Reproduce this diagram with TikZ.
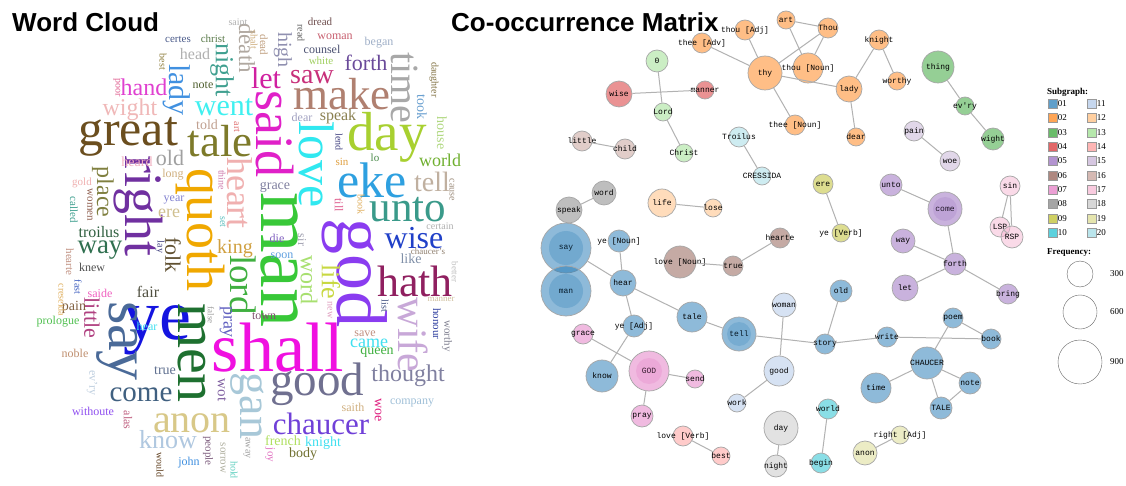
\documentclass[tikz,border=0pt]{standalone}
\usepackage{fontspec}
\setmainfont{Liberation Serif}
\newfontfamily\titlefont{Liberation Sans}
\newfontfamily\netfont{Liberation Mono}
\usetikzlibrary{positioning}

\newcommand\fs[1]{\fontsize{#1}{#1}\selectfont}
\newcommand\hx[1]{\definecolor{wcc}{HTML}{#1}\color{wcc}}

% subgraph colours
\definecolor{c01}{HTML}{1F77B4}\definecolor{c11}{HTML}{AEC7E8}
\definecolor{c02}{HTML}{FF7F0E}\definecolor{c12}{HTML}{FFBB78}
\definecolor{c03}{HTML}{2CA02C}\definecolor{c13}{HTML}{98DF8A}
\definecolor{c04}{HTML}{D62728}\definecolor{c14}{HTML}{FF9896}
\definecolor{c05}{HTML}{9467BD}\definecolor{c15}{HTML}{C5B0D5}
\definecolor{c06}{HTML}{8C564B}\definecolor{c16}{HTML}{C49C94}
\definecolor{c07}{HTML}{E377C2}\definecolor{c17}{HTML}{F7B6D2}
\definecolor{c08}{HTML}{7F7F7F}\definecolor{c18}{HTML}{C7C7C7}
\definecolor{c09}{HTML}{BCBD22}\definecolor{c19}{HTML}{DBDB8D}
\definecolor{c10}{HTML}{17BECF}\definecolor{c20}{HTML}{9EDAE5}

\begin{document}
\begin{tikzpicture}[
    x=1pt, y=-1pt,
    ttl/.style={font=\titlefont\bfseries\fs{26}, inner sep=0pt, anchor=base west},
    wd/.style={inner sep=0pt},
    vt/.style={inner sep=0pt, rotate=-90},
    nd/.style 2 args={circle, draw=black!35, line width=0.7pt, fill=#1, fill opacity=0.5, minimum size=#2, inner sep=0pt},
    every label/.style={font=\netfont\fs{8}, inner sep=0pt, text opacity=1},
    link/.style={draw=black!30, line width=1pt},
    sq/.style={rectangle, draw=black!40, fill=#1, fill opacity=0.7, minimum size=9pt, inner sep=0pt},
    lgtxt/.style={font=\fs{9}, inner sep=0pt, anchor=west},
]

%Background
\useasboundingbox[fill=white] (0,0) rectangle (1126,486);

% Titles
\node[ttl] (t-cloud) at (12,32) {Word Cloud};
\node[ttl] (t-matrix) at (451,32) {Co-occurrence Matrix};

% Word cloud: big words
\node[wd, font=\fs{50}\hx{6B4E1E}] (w-great) at (128,137) {great};
\node[wd, font=\fs{45}\hx{7D7A2A}] (w-tale) at (220,141) {tale};
\node[vt, font=\fs{54}\hx{E020C8}] (w-said) at (275,134) {said};
\node[vt, font=\fs{50}\hx{30E8F0}] (w-love) at (317,165) {love};
\node[wd, font=\fs{50}\hx{2EA0E0}] (w-eke) at (372,180) {eke};
\node[vt, font=\fs{78}\hx{38C838}] (w-man) at (279,260) {man};
\node[vt, font=\fs{72}\hx{8A3CF0}] (w-god) at (355,273) {god};
\node[wd, font=\fs{70}\hx{F010E0}] (w-shall) at (278,348) {shall};
\node[vt, font=\fs{54}\hx{F0A800}] (w-quoth) at (200,230) {quoth};
\node[vt, font=\fs{54}\hx{7030A0}] (w-right) at (138,206) {right};
\node[wd, font=\fs{72}\hx{1414E0}] (w-ye) at (157,330) {ye};
\node[vt, font=\fs{60}\hx{4A6A98}] (w-say) at (117,341) {say};
\node[vt, font=\fs{58}\hx{1E7030}] (w-men) at (192,353) {men};
\node[wd, font=\fs{44}\hx{902060}] (w-hath) at (415,281) {hath};
\node[wd, font=\fs{45}\hx{B08070}] (w-make) at (342,94) {make};
\node[wd, font=\fs{55}\hx{A8D030}] (w-day) at (387,137) {day};
\node[vt, font=\fs{40}\hx{A8A8A8}] (w-time) at (405,88) {time};
\node[wd, font=\fs{43}\hx{3A9A8A}] (w-unto) at (408,210) {unto};
\node[wd, font=\fs{47}\hx{707090}] (w-good) at (317,384) {good};
\node[vt, font=\fs{42}\hx{C8A8D8}] (w-wife) at (413,335) {wife};
\node[wd, font=\fs{40}\hx{D8C888}] (w-anon) at (192,423) {anon};
\node[wd, font=\fs{31}\hx{7040D8}] (w-chaucer) at (321,424) {chaucer};

% Word cloud: middle words
\node[wd, font=\fs{28}\hx{C0B0A0}] (w-tell) at (432,182) {tell};
\node[wd, font=\fs{32}\hx{2040C8}] (w-wise) at (414,238) {wise};
\node[wd, font=\fs{30}\hx{40F0F0}] (w-went) at (224,107) {went};
\node[wd, font=\fs{29}\hx{406080}] (w-come) at (141,395) {come};
\node[wd, font=\fs{28}\hx{C8307A}] (w-saw) at (312,77) {saw};
\node[wd, font=\fs{30}\hx{D020A0}] (w-let) at (266,78) {let};
\node[wd, font=\fs{22}\hx{6A4A9A}] (w-forth) at (366,63) {forth};
\node[vt, font=\fs{30}\hx{4090E0}] (w-lady) at (177,90) {lady};
\node[vt, font=\fs{36}\hx{F0B0B0}] (w-heart) at (240,193) {heart};
\node[vt, font=\fs{37}\hx{40B040}] (w-lord) at (243,285) {lord};
\node[vt, font=\fs{46}\hx{A8C8D8}] (w-gan) at (247,406) {gan};
\node[wd, font=\fs{27}\hx{307050}] (w-way) at (100,250) {way};
\node[vt, font=\fs{24}\hx{808040}] (w-place) at (103,192) {place};
\node[vt, font=\fs{26}\hx{40A090}] (w-night) at (222,70) {night};
\node[vt, font=\fs{23}\hx{B0A8A0}] (w-death) at (247,48) {death};
\node[wd, font=\fs{24}\hx{8080A0}] (w-thought) at (408,376) {thought};
\node[wd, font=\fs{26}\hx{B0C8E0}] (w-know) at (168,440) {know};
\node[wd, font=\fs{24}\hx{F0B8B8}] (w-wight) at (130,110) {wight};
\node[wd, font=\fs{24}\hx{E040D0}] (w-hand) at (144,87) {hand};
\node[wd, font=\fs{22}\hx{A0A0A0}] (w-old) at (170,158) {old};
\node[vt, font=\fs{24}\hx{A8E070}] (w-word) at (309,280) {word};
\node[vt, font=\fs{26}\hx{C8D840}] (w-life) at (331,282) {life};
\node[vt, font=\fs{22}\hx{605030}] (w-folk) at (173,255) {folk};
\node[wd, font=\fs{20}\hx{D0A040}] (w-king) at (235,249) {king};
\node[vt, font=\fs{18}\hx{6060C0}] (w-pray) at (226,322) {pray};
\node[vt, font=\fs{22}\hx{B04080}] (w-little) at (92,318) {little};
\node[wd, font=\fs{18}\hx{40E0F0}] (w-came) at (369,343) {came};
\node[wd, font=\fs{16}\hx{306040}] (w-troilus) at (99,232) {troilus};
\node[wd, font=\fs{18}\hx{D0C090}] (w-ere) at (169,213) {ere};
\node[wd, font=\fs{16}\hx{8A8050}] (w-speak) at (338,117) {speak};
\node[wd, font=\fs{18}\hx{70B030}] (w-world) at (440,160) {world};
\node[wd, font=\fs{16}\hx{505040}] (w-fair) at (148,292) {fair};
\node[wd, font=\fs{16}\hx{B0B0B0}] (w-head) at (195,54) {head};
\node[vt, font=\fs{20}\hx{9090B0}] (w-high) at (283,50) {high};

% Word cloud: small words
\node[vt, font=\fs{15}\hx{8060A0}] (w-wot) at (222,390) {wot};
\node[wd, font=\fs{14}\hx{C0A090}] (w-told) at (207,125) {told};
\node[wd, font=\fs{14}\hx{F0B0C0}] (w-heard) at (137,162) {heard};
\node[wd, font=\fs{14}\hx{8080A0}] (w-grace) at (275,187) {grace};
\node[vt, font=\fs{14}\hx{6AA0D0}] (w-took) at (422,107) {took};
\node[vt, font=\fs{14}\hx{B0D880}] (w-house) at (442,133) {house};
\node[wd, font=\fs{14}\hx{607090}] (w-true) at (165,371) {true};
\node[wd, font=\fs{14}\hx{40B040}] (w-queen) at (377,353) {queen};
\node[vt, font=\fs{14}\hx{E02080}] (w-woe) at (378,410) {woe};
\node[wd, font=\fs{14}\hx{B0E060}] (w-french) at (283,441) {french};
\node[wd, font=\fs{14}\hx{40E0F0}] (w-knight) at (323,443) {knight};
\node[wd, font=\fs{14}\hx{707030}] (w-body) at (303,454) {body};
\node[wd, font=\fs{14}\hx{806040}] (w-pain) at (74,307) {pain};
\node[wd, font=\fs{14}\hx{8090A8}] (w-like) at (411,259) {like};
\node[wd, font=\fs{12}\hx{4A5070}] (w-counsel) at (322,49) {counsel};
\node[wd, font=\fs{12}\hx{C86070}] (w-woman) at (335,37) {woman};
\node[wd, font=\fs{12}\hx{A0B0C8}] (w-began) at (379,43) {began};
\node[wd, font=\fs{11}\hx{A0D060}] (w-white) at (321,61) {white};
\node[wd, font=\fs{12}\hx{A0A0C0}] (w-dear) at (302,117) {dear};
\node[wd, font=\fs{11}\hx{E0A040}] (w-sin) at (342,162) {sin};
\node[wd, font=\fs{11}\hx{4A8A4A}] (w-lo) at (375,158) {lo};
\node[vt, font=\fs{12}\hx{E06090}] (w-till) at (339,205) {till};
\node[vt, font=\fs{10}\hx{E0B060}] (w-book) at (361,205) {book};
\node[vt, font=\fs{12}\hx{A0A0B0}] (w-sir) at (302,240) {sir};
\node[wd, font=\fs{12}\hx{8060C0}] (w-die) at (277,238) {die};
\node[wd, font=\fs{12}\hx{60A0E0}] (w-soon) at (282,256) {soon};
\node[vt, font=\fs{10}\hx{E0A0C0}] (w-new) at (330,310) {new};
\node[vt, font=\fs{10}\hx{405080}] (w-list) at (385,306) {list};
\node[wd, font=\fs{12}\hx{805070}] (w-town) at (264,316) {town};
\node[wd, font=\fs{12}\hx{C09080}] (w-save) at (365,334) {save};
\node[vt, font=\fs{11}\hx{3040A0}] (w-honour) at (437,324) {honour};
\node[vt, font=\fs{11}\hx{808090}] (w-worthy) at (447,336) {worthy};
\node[wd, font=\fs{12}\hx{D0B080}] (w-saith) at (353,407) {saith};
\node[wd, font=\fs{12}\hx{A0C0D8}] (w-company) at (412,403) {company};
\node[vt, font=\fs{11}\hx{E070C0}] (w-joy) at (270,455) {joy};
\node[wd, font=\fs{12}\hx{8080D0}] (w-year) at (174,200) {year};
\node[wd, font=\fs{12}\hx{D0B080}] (w-long) at (173,175) {long};
\node[vt, font=\fs{10}\hx{60C0C0}] (w-set) at (223,222) {set};
\node[vt, font=\fs{10}\hx{404080}] (w-lay) at (160,247) {lay};
\node[wd, font=\fs{12}\hx{505050}] (w-knew) at (92,267) {knew};
\node[vt, font=\fs{11}\hx{906050}] (w-women) at (90,205) {women};
\node[vt, font=\fs{11}\hx{40A090}] (w-called) at (74,210) {called};
\node[wd, font=\fs{11}\hx{F0B0B0}] (w-gold) at (82,183) {gold};
\node[vt, font=\fs{11}\hx{C09080}] (w-hearte) at (70,262) {hearte};
\node[vt, font=\fs{10}\hx{4060C0}] (w-fast) at (78,287) {fast};
\node[vt, font=\fs{10}\hx{E0B060}] (w-creseida) at (62,300) {creseida};
\node[wd, font=\fs{12}\hx{F060C0}] (w-saide) at (100,293) {saide};
\node[wd, font=\fs{12}\hx{50C050}] (w-prologue) at (58,322) {prologue};
\node[wd, font=\fs{12}\hx{C09070}] (w-noble) at (75,353) {noble};
\node[wd, font=\fs{12}\hx{40E0F0}] (w-hear) at (147,326) {hear};
\node[vt, font=\fs{12}\hx{C0D0E0}] (w-evry) at (92,383) {ev'ry};
\node[wd, font=\fs{12}\hx{9050F0}] (w-withoute) at (93,411) {withoute};
\node[vt, font=\fs{12}\hx{C06080}] (w-alas) at (128,420) {alas};
\node[vt, font=\fs{10}\hx{604020}] (w-would) at (160,465) {would};
\node[wd, font=\fs{12}\hx{4090E0}] (w-john) at (189,463) {john};
\node[vt, font=\fs{11}\hx{806080}] (w-people) at (208,451) {people};
\node[vt, font=\fs{11}\hx{B0B0A0}] (w-sorrow) at (223,458) {sorrow};
\node[vt, font=\fs{10}\hx{60D0C0}] (w-hold) at (234,470) {hold};
\node[vt, font=\fs{10}\hx{A0A0A0}] (w-away) at (247,448) {away};
\node[vt, font=\fs{9}\hx{A0A0A0}] (w-false) at (211,315) {false};
\node[vt, font=\fs{10}\hx{D080B0}] (w-thine) at (222,180) {thine};
\node[vt, font=\fs{10}\hx{E07070}] (w-art) at (237,127) {art};
\node[vt, font=\fs{10}\hx{E06090}] (w-poor) at (117,88) {poor};
\node[vt, font=\fs{10}\hx{908040}] (w-best) at (163,62) {best};
\node[wd, font=\fs{12}\hx{506030}] (w-note) at (203,85) {note};
\node[wd, font=\fs{11}\hx{4A5A8A}] (w-certes) at (178,39) {certes};
\node[wd, font=\fs{11}\hx{5A7A4A}] (w-christ) at (213,39) {christ};
\node[wd, font=\fs{10}\hx{B0B0B0}] (w-saint) at (238,22) {saint};
\node[vt, font=\fs{10}\hx{D0B080}] (w-shalt) at (254,40) {shalt};
\node[vt, font=\fs{11}\hx{C0A080}] (w-dead) at (264,45) {dead};
\node[vt, font=\fs{10}\hx{606060}] (w-read) at (301,33) {read};
\node[wd, font=\fs{11}\hx{705050}] (w-dread) at (320,22) {dread};
\node[vt, font=\fs{10}\hx{807040}] (w-daughter) at (434,80) {daughter};
\node[vt, font=\fs{10}\hx{404080}] (w-lend) at (339,142) {lend};
\node[vt, font=\fs{10}\hx{A09080}] (w-cause) at (452,190) {cause};
\node[wd, font=\fs{10}\hx{B0B0B0}] (w-certain) at (440,226) {certain};
\node[wd, font=\fs{9}\hx{908070}] (w-chaucers) at (428,251) {chaucer's};
\node[vt, font=\fs{9}\hx{C0C0C0}] (w-better) at (455,272) {better};
\node[wd, font=\fs{9}\hx{D0C0A0}] (w-manner) at (441,299) {manner};

% Network: subgraph 02
\node[nd={c02}{20pt}, label=center:{thee [Adv]}] (thee-adv) at (702,43) {};
\node[nd={c02}{20pt}, label=center:{thou [Adj]}] (thou-adj) at (745,30) {};
\node[nd={c02}{18pt}, label=center:{art}] (art) at (786,20) {};
\node[nd={c02}{20pt}, label=center:{Thou}] (Thou-cap) at (828,28) {};
\node[nd={c02}{34pt}, label=center:{thy}] (thy) at (765,73) {};
\node[nd={c02}{30pt}, label=center:{thou [Noun]}] (thou-noun) at (808,68) {};
\node[nd={c02}{20pt}, label=center:{knight}] (knight) at (879,40) {};
\node[nd={c02}{26pt}, label=center:{lady}] (lady) at (849,89) {};
\node[nd={c02}{18pt}, label=center:{worthy}] (worthy) at (897,81) {};
\node[nd={c02}{20pt}, label=center:{thee [Noun]}] (thee-noun) at (795,125) {};
\node[nd={c02}{18pt}, label=center:{dear}] (dear) at (856,137) {};

% Network: small subgraphs, top
\node[nd={c13}{22pt}, label=center:{0}] (n-0) at (657,61) {};
\node[nd={c04}{26pt}, label=center:{wise}] (wise) at (619,94) {};
\node[nd={c04}{18pt}, label=center:{manner}] (manner) at (705,90) {};
\node[nd={c13}{18pt}, label=center:{Lord}] (Lord) at (663,112) {};
\node[nd={c13}{18pt}, label=center:{Christ}] (Christ) at (684,153) {};
\node[nd={c16}{20pt}, label=center:{little}] (little) at (582,141) {};
\node[nd={c16}{20pt}, label=center:{child}] (child) at (625,149) {};
\node[nd={c20}{20pt}, label=center:{Troilus}] (Troilus) at (739,137) {};
\node[nd={c20}{18pt}, label=center:{CRESSIDA}] (CRESSIDA) at (762,176) {};
\node[nd={c03}{32pt}, label=center:{thing}] (thing) at (938,67) {};
\node[nd={c03}{18pt}, label=center:{ev'ry}] (evry) at (965,106) {};
\node[nd={c03}{22pt}, label=center:{wight}] (wight) at (993,139) {};
\node[nd={c15}{20pt}, label=center:{pain}] (pain) at (914,131) {};
\node[nd={c15}{20pt}, label=center:{woe}] (woe) at (950,161) {};

% Network: middle
\node[nd={c09}{20pt}, label=center:{ere}] (ere) at (823,184) {};
\node[nd={c09}{18pt}, label=center:{ye [Verb]}] (ye-verb) at (841,233) {};
\node[nd={c05}{22pt}, label=center:{unto}] (unto) at (891,185) {};
\node[nd={c05}{34pt}, label=center:{come}] (come) at (945,209) {};
\node[nd={c05}{24pt}, label=center:{way}] (way) at (903,241) {};
\node[nd={c05}{22pt}, label=center:{forth}] (forth) at (955,264) {};
\node[nd={c05}{26pt}, label=center:{let}] (let) at (905,288) {};
\node[nd={c05}{20pt}, label=center:{bring}] (bring) at (1008,294) {};
\node[nd={c17}{20pt}, label=center:{sin}] (sin) at (1010,186) {};
\node[nd={c17}{20pt}, label=center:{LSP}] (LSP) at (1000,227) {};
\node[nd={c17}{22pt}, label=center:{RSP}] (RSP) at (1012,237) {};
\node[nd={c08}{24pt}, label=center:{word}] (word) at (604,193) {};
\node[nd={c08}{26pt}, label=center:{speak}] (speak) at (569,210) {};
\node[nd={c12}{28pt}, label=center:{life}] (life) at (662,203) {};
\node[nd={c12}{18pt}, label=center:{lose}] (lose) at (713,208) {};
\node[nd={c01}{50pt}, label=center:{say}] (say) at (566,248) {};
\node[nd={c01}{50pt}, label=center:{man}] (man) at (566,291) {};
\node[nd={c01}{22pt}, label=center:{ye [Noun]}] (ye-noun) at (619,241) {};
\node[nd={c01}{26pt}, label=center:{hear}] (hear) at (623,283) {};
\node[nd={c06}{32pt}, label=center:{love [Noun]}] (love-noun) at (680,262) {};
\node[nd={c06}{20pt}, label=center:{true}] (true) at (733,266) {};
\node[nd={c06}{20pt}, label=center:{hearte}] (hearte) at (780,238) {};
\node[nd={c01}{22pt}, label=center:{old}] (old) at (841,291) {};
\node[nd={c11}{24pt}, label=center:{woman}] (woman) at (784,305) {};

% Network: bottom
\node[nd={c01}{30pt}, label=center:{tale}] (tale) at (692,317) {};
\node[nd={c01}{22pt}, label=center:{ye [Adj]}] (ye-adj) at (634,326) {};
\node[nd={c01}{34pt}, label=center:{tell}] (tell) at (739,334) {};
\node[nd={c01}{20pt}, label=center:{story}] (story) at (825,344) {};
\node[nd={c01}{20pt}, label=center:{write}] (write) at (887,337) {};
\node[nd={c01}{20pt}, label=center:{poem}] (poem) at (953,318) {};
\node[nd={c01}{20pt}, label=center:{book}] (book) at (991,339) {};
\node[nd={c07}{20pt}, label=center:{grace}] (grace) at (583,334) {};
\node[nd={c07}{40pt}, label=center:{GOD}] (GOD) at (649,371) {};
\node[nd={c01}{32pt}, label=center:{know}] (know) at (602,376) {};
\node[nd={c07}{18pt}, label=center:{send}] (send) at (695,379) {};
\node[nd={c11}{30pt}, label=center:{good}] (good) at (779,371) {};
\node[nd={c01}{32pt}, label=center:{CHAUCER}] (CHAUCER) at (927,363) {};
\node[nd={c01}{30pt}, label=center:{time}] (time) at (876,388) {};
\node[nd={c01}{22pt}, label=center:{note}] (note) at (970,383) {};
\node[nd={c01}{22pt}, label=center:{TALE}] (TALE) at (941,408) {};
\node[nd={c11}{18pt}, label=center:{work}] (work) at (737,403) {};
\node[nd={c07}{22pt}, label=center:{pray}] (pray) at (642,416) {};
\node[nd={c10}{20pt}, label=center:{world}] (world) at (828,409) {};
\node[nd={c18}{34pt}, label=center:{day}] (day) at (781,428) {};
\node[nd={c18}{22pt}, label=center:{night}] (night) at (776,466) {};
\node[nd={c10}{20pt}, label=center:{begin}] (begin) at (821,463) {};
\node[nd={c14}{20pt}, label=center:{love [Verb]}] (love-verb) at (683,436) {};
\node[nd={c14}{18pt}, label=center:{best}] (best) at (721,456) {};
\node[nd={c19}{18pt}, label=center:{right [Adj]}] (right-adj) at (900,435) {};
\node[nd={c19}{24pt}, label=center:{anon}] (anon) at (865,453) {};

% inner rings of the big nodes
\fill[c01, opacity=0.25] (say) circle (17);
\fill[c01, opacity=0.25] (man) circle (17);
\fill[c07, opacity=0.25] (GOD) circle (13);
\fill[c05, opacity=0.2] (come) circle (12);
\fill[c01, opacity=0.2] (tell) circle (12);

% Links
\draw[link] (thee-adv) -- (thy);
\draw[link] (thou-adj) -- (thy);
\draw[link] (art) -- (Thou-cap);
\draw[link] (art) -- (thou-noun);
\draw[link] (Thou-cap) -- (thou-noun);
\draw[link] (Thou-cap) -- (thy);
\draw[link] (thy) -- (lady);
\draw[link] (thy) -- (thee-noun);
\draw[link] (knight) -- (lady);
\draw[link] (knight) -- (worthy);
\draw[link] (lady) -- (dear);
\draw[link] (n-0) -- (Lord);
\draw[link] (wise) -- (manner);
\draw[link] (Lord) -- (Christ);
\draw[link] (little) -- (child);
\draw[link] (Troilus) -- (CRESSIDA);
\draw[link] (thing) -- (evry);
\draw[link] (evry) -- (wight);
\draw[link] (pain) -- (woe);
\draw[link] (ere) -- (ye-verb);
\draw[link] (unto) -- (come);
\draw[link] (come) -- (forth);
\draw[link] (way) -- (forth);
\draw[link] (let) -- (forth);
\draw[link] (forth) -- (bring);
\draw[link] (sin) -- (LSP);
\draw[link] (sin) -- (RSP);
\draw[link] (LSP) -- (RSP);
\draw[link] (word) -- (speak);
\draw[link] (life) -- (lose);
\draw[link] (say) -- (hear);
\draw[link] (ye-noun) -- (hear);
\draw[link] (hear) -- (tale);
\draw[link] (hear) -- (ye-adj);
\draw[link] (love-noun) -- (true);
\draw[link] (true) -- (hearte);
\draw[link] (tale) -- (tell);
\draw[link] (tell) -- (story);
\draw[link] (story) -- (old);
\draw[link] (story) -- (write);
\draw[link] (write) -- (book);
\draw[link] (book) -- (poem);
\draw[link] (poem) -- (CHAUCER);
\draw[link] (CHAUCER) -- (time);
\draw[link] (CHAUCER) -- (note);
\draw[link] (CHAUCER) -- (TALE);
\draw[link] (note) -- (TALE);
\draw[link] (woman) -- (good);
\draw[link] (good) -- (work);
\draw[link] (ye-adj) -- (know);
\draw[link] (grace) -- (GOD);
\draw[link] (GOD) -- (send);
\draw[link] (GOD) -- (pray);
\draw[link] (world) -- (begin);
\draw[link] (day) -- (night);
\draw[link] (love-verb) -- (best);
\draw[link] (right-adj) -- (anon);

% Legend
\node[lgtxt, font=\bfseries\fs{9}] (lg-sub) at (1047,92) {Subgraph:};
\node[sq=c01, label={[lgtxt]right:01}] (lg-01) at (1053,104) {};
\node[sq=c02, label={[lgtxt]right:02}] (lg-02) at (1053,118) {};
\node[sq=c03, label={[lgtxt]right:03}] (lg-03) at (1053,133) {};
\node[sq=c04, label={[lgtxt]right:04}] (lg-04) at (1053,147) {};
\node[sq=c05, label={[lgtxt]right:05}] (lg-05) at (1053,161) {};
\node[sq=c06, label={[lgtxt]right:06}] (lg-06) at (1053,176) {};
\node[sq=c07, label={[lgtxt]right:07}] (lg-07) at (1053,190) {};
\node[sq=c08, label={[lgtxt]right:08}] (lg-08) at (1053,204) {};
\node[sq=c09, label={[lgtxt]right:09}] (lg-09) at (1053,219) {};
\node[sq=c10, label={[lgtxt]right:10}] (lg-10) at (1053,233) {};
\node[sq=c11, label={[lgtxt]right:11}] (lg-11) at (1092,104) {};
\node[sq=c12, label={[lgtxt]right:12}] (lg-12) at (1092,118) {};
\node[sq=c13, label={[lgtxt]right:13}] (lg-13) at (1092,133) {};
\node[sq=c14, label={[lgtxt]right:14}] (lg-14) at (1092,147) {};
\node[sq=c15, label={[lgtxt]right:15}] (lg-15) at (1092,161) {};
\node[sq=c16, label={[lgtxt]right:16}] (lg-16) at (1092,176) {};
\node[sq=c17, label={[lgtxt]right:17}] (lg-17) at (1092,190) {};
\node[sq=c18, label={[lgtxt]right:18}] (lg-18) at (1092,204) {};
\node[sq=c19, label={[lgtxt]right:19}] (lg-19) at (1092,219) {};
\node[sq=c20, label={[lgtxt]right:20}] (lg-20) at (1092,233) {};

\node[lgtxt, font=\bfseries\fs{9}] (lg-freq) at (1047,253) {Frequency:};
\node[circle, draw=black!60, minimum size=26pt] (lg-300) at (1080,274) {};
\node[circle, draw=black!60, minimum size=34pt] (lg-600) at (1080,312) {};
\node[circle, draw=black!60, minimum size=44pt] (lg-900) at (1080,362) {};
\node[lgtxt, right=30pt of lg-300.center] (lg-300t) {300};
\node[lgtxt, right=30pt of lg-600.center] (lg-600t) {600};
\node[lgtxt, right=30pt of lg-900.center] (lg-900t) {900};

\end{tikzpicture}
\end{document}
